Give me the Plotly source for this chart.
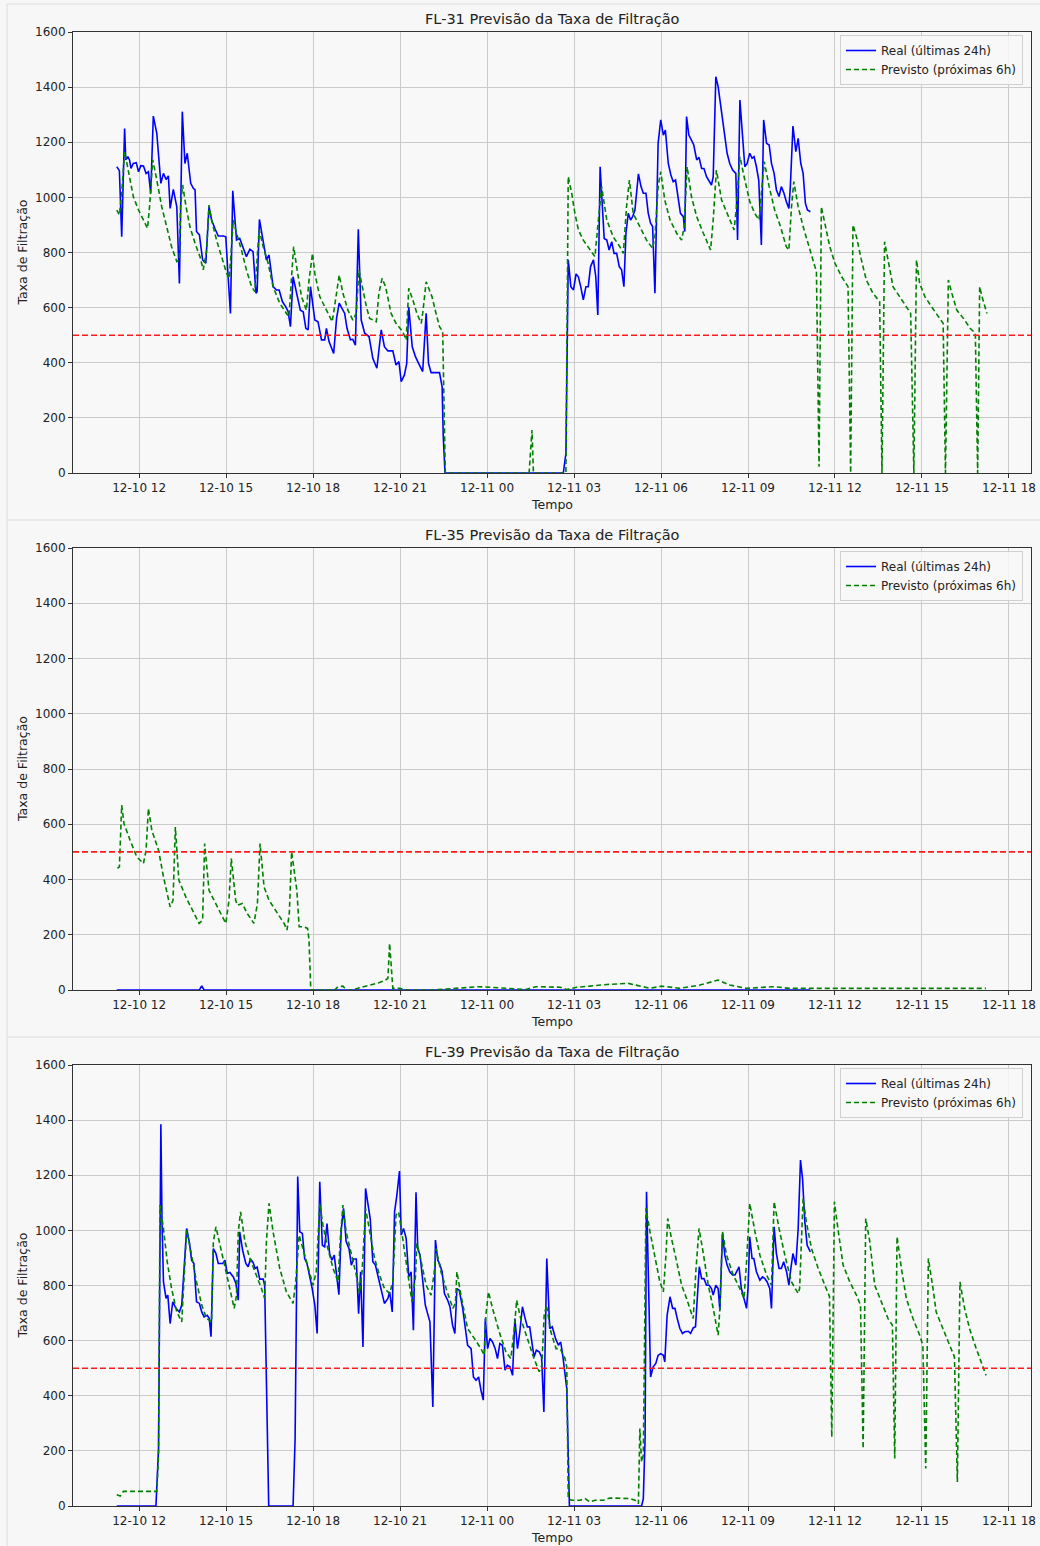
import pandas as pd
import plotly.graph_objects as go

BASE = pd.Timestamp("2024-12-10 00:00")

# ---------------- data (hours since 12-10 00:00, values) ----------------
fl31_real_h = [11.23,11.32,11.40,11.50,11.54,11.61,11.67,11.72,11.80,11.90,11.98,12.06,12.15,12.24,12.32,12.40,12.49,12.61,12.75,12.84,12.93,13.01,13.07,13.18,13.30,13.39,13.49,13.58,13.66,13.78,13.87,13.93,13.98,14.08,14.19,14.30,14.41,14.50,14.61,14.73,14.90,14.99,15.07,15.15,15.23,15.36,15.47,15.62,15.70,15.82,15.93,16.03,16.07,16.15,16.28,16.39,16.48,16.62,16.74,16.83,16.94,17.06,17.14,17.22,17.31,17.43,17.56,17.66,17.75,17.83,17.91,18.06,18.17,18.29,18.40,18.46,18.55,18.71,18.81,18.90,19.01,19.09,19.17,19.29,19.37,19.46,19.56,19.66,19.78,19.93,20.06,20.20,20.35,20.46,20.58,20.75,20.86,20.96,21.04,21.15,21.23,21.30,21.42,21.53,21.64,21.78,21.90,21.98,22.07,22.36,22.45,22.49,22.55,26.63,26.72,26.80,26.89,26.98,27.07,27.15,27.23,27.32,27.41,27.49,27.57,27.67,27.75,27.82,27.90,27.98,28.04,28.13,28.21,28.30,28.38,28.47,28.56,28.64,28.72,28.79,28.87,28.95,29.02,29.10,29.22,29.31,29.39,29.48,29.56,29.64,29.71,29.79,29.85,29.90,29.99,30.08,30.15,30.25,30.34,30.42,30.50,30.59,30.67,30.77,30.82,30.88,30.96,31.05,31.13,31.23,31.31,31.40,31.48,31.57,31.66,31.74,31.80,31.89,31.97,32.09,32.18,32.28,32.37,32.47,32.58,32.64,32.72,32.81,32.89,32.97,33.06,33.14,33.21,33.29,33.37,33.46,33.54,33.64,33.73,33.81,33.90,33.98,34.07,34.15,34.24,34.32,34.41,34.46,34.55,34.65,34.73,34.82,34.90,34.98,35.05,35.15]
fl31_real_v = [1111,1097,857,1250,1136,1148,1136,1105,1123,1126,1093,1115,1114,1087,1093,1015,1295,1232,1051,1087,1065,1078,960,1029,966,688,1311,1123,1160,1051,1033,1027,876,864,773,761,966,918,888,860,860,857,712,579,1024,845,851,809,785,812,803,652,658,920,845,773,791,676,664,664,622,603,585,531,712,658,591,585,525,519,676,555,549,483,483,525,477,434,561,616,591,579,525,483,485,464,884,555,507,495,416,380,519,458,443,443,392,404,331,356,398,603,458,422,398,368,579,398,364,364,313,132,0,0,71,773,676,664,722,712,676,628,676,676,749,773,712,573,1111,966,851,845,809,839,797,797,749,737,676,870,942,918,930,954,1085,1039,1015,1015,942,906,894,652,918,1196,1281,1226,1244,1123,1081,1057,1063,990,942,930,876,1293,1226,1208,1190,1136,1145,1105,1105,1075,1057,1045,1075,1438,1402,1305,1220,1160,1123,1099,1087,845,1353,1220,1111,1123,1160,1142,1148,1111,1063,827,1281,1196,1190,1123,1087,1027,1003,1039,1015,985,960,1039,1259,1166,1214,1123,1087,978,954,948]

fl31_pred_h = [11.23,11.32,11.40,11.50,11.58,11.69,11.80,11.98,12.15,12.29,12.36,12.47,12.61,12.78,12.95,13.12,13.30,13.39,13.43,13.50,13.62,13.75,13.93,14.10,14.21,14.33,14.41,14.50,14.67,14.84,15.02,15.11,15.19,15.25,15.36,15.53,15.70,15.88,15.99,16.07,16.14,16.28,16.45,16.62,16.85,17.08,17.17,17.25,17.33,17.45,17.60,17.77,17.86,17.98,18.06,18.23,18.46,18.66,18.74,18.90,19.03,19.20,19.37,19.49,19.58,19.70,19.84,19.95,20.18,20.27,20.38,20.50,20.69,20.86,21.09,21.21,21.30,21.44,21.58,21.73,21.78,21.90,22.10,22.24,22.36,22.47,22.53,22.56,25.45,25.55,25.60,26.72,26.80,26.92,27.03,27.15,27.32,27.55,27.72,27.84,27.95,28.13,28.35,28.58,28.70,28.81,28.91,29.04,29.27,29.50,29.71,29.79,29.90,29.99,30.13,30.31,30.54,30.71,30.80,30.90,31.05,31.23,31.46,31.71,31.80,31.91,32.09,32.32,32.52,32.60,32.72,32.89,33.06,33.23,33.38,33.46,33.56,33.73,33.92,34.12,34.32,34.41,34.50,34.58,34.73,34.90,35.07,35.24,35.36,35.45,35.53,35.65,35.82,36.00,36.23,36.45,36.54,36.62,36.74,36.91,37.08,37.31,37.54,37.62,37.71,37.83,38.00,38.23,38.46,38.61,38.72,38.81,38.92,39.10,39.33,39.56,39.73,39.81,39.91,40.03,40.20,40.43,40.66,40.84,40.92,40.99,41.07,41.24]
fl31_pred_v = [954,936,1015,1166,1123,1063,1003,954,918,888,966,1136,1063,966,894,821,767,773,966,1045,966,894,833,785,737,809,972,918,845,785,724,706,845,918,870,809,737,676,658,773,882,821,761,676,616,579,567,700,821,737,640,591,700,797,724,640,591,549,603,718,652,591,555,579,737,676,603,561,549,652,706,676,579,543,513,483,670,628,579,543,579,694,640,579,531,513,192,0,0,156,0,0,1075,1015,942,882,845,809,785,918,1039,918,857,821,797,966,1063,942,894,845,815,857,1039,1093,990,918,870,845,894,1111,1003,930,870,809,918,1099,990,930,882,966,1148,1063,985,942,918,1015,1130,1039,954,894,821,809,966,1057,966,894,833,773,730,23,966,906,821,761,712,676,0,900,857,773,700,652,622,0,839,773,676,640,603,579,0,773,688,640,603,567,543,0,700,652,591,561,525,507,0,676,640,579]

fl35_real_h = [11.23, 14.08, 14.16, 14.24, 35.15]
fl35_real_v = [0, 0, 15, 0, 0]

fl35_pred_h = [11.25,11.32,11.40,11.48,11.69,11.92,12.15,12.24,12.32,12.44,12.67,12.84,13.07,13.17,13.25,13.37,13.61,13.84,14.07,14.19,14.26,14.41,14.70,14.99,15.10,15.18,15.33,15.39,15.56,15.73,15.96,16.08,16.17,16.31,16.48,16.77,17.00,17.10,17.18,17.26,17.35,17.44,17.52,17.67,17.81,17.86,17.92,18.74,18.86,19.03,19.15,19.38,19.60,19.83,20.06,20.29,20.46,20.58,20.64,20.70,20.75,20.98,21.21,22.13,22.47,23.04,23.73,24.08,24.77,25.34,25.68,26.03,26.52,26.75,27.09,27.55,28.13,28.87,29.27,29.62,30.02,30.65,31.34,31.97,32.37,32.95,33.87,34.44,35.24,37.31,41.21]
fl35_pred_v = [440,446,669,602,542,482,458,506,657,578,506,410,301,325,590,398,337,289,241,253,530,361,301,241,325,476,325,307,313,277,241,313,530,373,325,277,241,217,277,500,422,361,229,229,223,181,0,0,12,14,0,0,8,14,20,27,34,42,169,72,6,6,0,0,2,6,12,10,6,2,12,12,10,2,10,14,20,24,14,6,14,6,18,36,18,6,12,6,6,6,6]

fl39_real_h = [11.23,12.58,12.67,12.75,12.79,12.84,12.93,12.99,13.07,13.16,13.27,13.39,13.47,13.55,13.64,13.73,13.81,13.89,13.98,14.08,14.16,14.24,14.35,14.42,14.48,14.56,14.65,14.73,14.88,14.96,15.04,15.13,15.25,15.34,15.42,15.47,15.57,15.68,15.76,15.84,15.93,16.00,16.07,16.16,16.28,16.33,16.47,17.31,17.38,17.47,17.54,17.63,17.71,17.79,17.88,17.97,18.06,18.14,18.23,18.32,18.40,18.48,18.57,18.65,18.73,18.80,18.89,18.97,19.05,19.14,19.24,19.32,19.40,19.49,19.57,19.64,19.72,19.81,19.89,19.97,20.06,20.15,20.23,20.35,20.46,20.58,20.64,20.73,20.81,20.89,20.98,21.04,21.12,21.21,21.30,21.38,21.46,21.55,21.61,21.69,21.78,21.87,21.95,22.03,22.13,22.22,22.30,22.36,22.45,22.53,22.64,22.72,22.81,22.89,22.96,23.04,23.16,23.25,23.33,23.45,23.53,23.62,23.71,23.79,23.87,23.94,24.02,24.10,24.19,24.28,24.36,24.44,24.53,24.62,24.70,24.79,24.88,24.96,25.05,25.13,25.22,25.30,25.39,25.47,25.54,25.62,25.70,25.80,25.88,25.96,26.06,26.16,26.25,26.36,26.46,26.54,26.61,26.69,26.75,26.84,29.33,29.39,29.45,29.50,29.56,29.64,29.73,29.82,29.90,29.99,30.08,30.13,30.21,30.31,30.40,30.48,30.56,30.65,30.74,30.82,30.94,31.02,31.11,31.19,31.25,31.32,31.40,31.48,31.57,31.66,31.74,31.80,31.89,31.97,32.03,32.12,32.20,32.28,32.37,32.47,32.55,32.63,32.69,32.77,32.86,32.95,33.00,33.06,33.14,33.20,33.29,33.41,33.50,33.58,33.66,33.75,33.81,33.90,33.98,34.07,34.15,34.23,34.33,34.41,34.47,34.55,34.65,34.73,34.81,34.88,34.96,35.04,35.15]
fl39_real_v = [0,0,208,1385,1031,813,753,765,662,741,717,704,729,850,1007,959,892,880,741,735,704,686,692,680,614,934,916,880,880,892,844,847,831,807,747,995,928,880,868,896,884,862,867,823,823,801,0,0,244,1195,995,989,898,880,838,789,729,626,1176,946,940,1025,916,892,910,850,767,1001,1080,959,934,874,896,896,698,850,577,1152,1092,1043,886,874,838,789,735,753,777,704,1067,1128,1215,983,1007,971,831,850,638,1138,934,910,813,729,698,668,359,965,892,880,850,771,747,723,656,626,789,783,717,638,583,571,468,456,468,420,384,680,571,608,595,571,535,589,583,493,511,505,474,680,571,632,723,686,650,650,595,541,565,559,541,341,898,644,650,608,583,595,547,487,426,0,0,27,244,1140,789,468,505,517,547,553,547,523,692,759,717,717,680,644,626,632,634,626,646,650,753,868,825,825,801,801,789,765,801,789,710,989,910,874,850,838,838,856,868,789,747,717,789,977,898,898,850,819,831,825,813,789,717,1013,916,862,862,886,850,801,856,916,874,1007,1255,1188,1031,946,922]

fl39_pred_h = [11.23,11.35,11.46,11.69,12.15,12.61,12.67,12.72,12.84,12.97,13.12,13.30,13.47,13.55,13.64,13.81,13.98,14.16,14.33,14.50,14.56,14.65,14.79,14.96,15.13,15.28,15.36,15.42,15.50,15.65,15.82,16.05,16.22,16.33,16.39,16.48,16.62,16.85,17.08,17.31,17.40,17.52,17.65,17.83,18.00,18.11,18.23,18.34,18.51,18.69,18.86,18.94,19.03,19.14,19.32,19.49,19.60,19.69,19.81,19.95,20.12,20.29,20.46,20.64,20.75,20.86,20.95,21.09,21.26,21.41,21.53,21.58,21.73,21.90,22.07,22.18,22.24,22.41,22.59,22.82,22.91,22.96,23.10,23.33,23.56,23.79,23.90,23.96,24.05,24.19,24.42,24.65,24.82,24.94,25.02,25.16,25.39,25.62,25.80,25.89,25.97,26.05,26.20,26.38,26.52,26.69,26.75,26.80,26.92,27.21,27.38,27.55,27.72,28.01,28.24,28.58,28.93,29.10,29.22,29.27,29.33,29.39,29.48,29.62,29.79,29.96,30.08,30.17,30.23,30.36,30.54,30.71,30.88,31.11,31.20,31.31,31.45,31.63,31.80,31.97,32.03,32.12,32.26,32.49,32.72,32.86,32.95,33.06,33.24,33.41,33.64,33.81,33.90,34.07,34.27,34.50,34.73,34.78,34.90,35.01,35.19,35.42,35.65,35.81,35.89,35.98,36.10,36.28,36.51,36.74,36.88,36.97,37.06,37.20,37.37,37.60,37.83,37.98,38.06,38.14,38.29,38.46,38.69,38.92,39.03,39.13,39.22,39.38,39.49,39.72,39.95,40.12,40.22,40.31,40.47,40.64,40.87,41.04,41.21]
fl39_pred_v = [41,36,53,53,53,53,184,1092,1007,886,789,704,668,850,1001,910,813,729,680,668,959,1013,946,874,789,717,765,995,1067,959,898,838,789,753,959,1098,995,862,777,735,813,983,934,862,801,850,1098,1019,934,862,813,971,1092,995,910,838,771,850,1080,995,898,838,789,771,813,1055,1067,971,838,741,831,953,886,801,765,850,934,850,789,717,735,850,765,644,608,571,547,692,777,717,632,559,535,644,747,680,608,535,487,511,692,729,632,571,571,535,505,27,21,21,27,15,21,21,29,29,27,21,8,281,160,184,1080,995,910,813,777,910,1043,971,886,801,753,680,850,1007,922,801,717,620,717,995,910,838,789,753,886,1098,995,910,838,801,1104,1007,910,813,771,789,1116,1031,934,862,801,760,250,1104,1007,874,813,765,729,208,1043,959,801,741,680,656,172,977,862,753,680,620,583,136,898,789,704,644,583,541,87,813,717,644,571,523,474]

panels = [
    ("FL-31 Previsão da Taxa de Filtração", fl31_real_h, fl31_real_v, fl31_pred_h, fl31_pred_v),
    ("FL-35 Previsão da Taxa de Filtração", fl35_real_h, fl35_real_v, fl35_pred_h, fl35_pred_v),
    ("FL-39 Previsão da Taxa de Filtração", fl39_real_h, fl39_real_v, fl39_pred_h, fl39_pred_v),
]
threshold = 500

# ---------------- layout geometry (pixels) ----------------
W, H = 1040, 1546
PX_L, PX_R = 73, 1031
PANEL_Y = [(32, 473), (548, 990), (1065, 1506)]

def px(x):
    return x / W

def py(y):
    return 1 - y / H

FONT = "DejaVu Sans"
fig = go.Figure()

def to_t(hs):
    return BASE + pd.to_timedelta(pd.Series(hs), unit="h")

x_range = [BASE + pd.Timedelta(hours=9.72), BASE + pd.Timedelta(hours=42.76)]

annotations = []
shapes = []
for i, (title, rh, rv, ph, pv) in enumerate(panels):
    k = "" if i == 0 else str(i + 1)
    leg = "legend" if i == 0 else f"legend{i+1}"
    fig.add_trace(go.Scatter(x=to_t(rh), y=rv, mode="lines", name="Real (últimas 24h)",
                             line=dict(color="#0000ff", width=1.6), xaxis="x" + k, yaxis="y" + k,
                             legend=leg))
    fig.add_trace(go.Scatter(x=to_t(ph), y=pv, mode="lines", name="Previsto (próximas 6h)",
                             line=dict(color="#008000", width=1.6, dash="5px,3px"),
                             xaxis="x" + k, yaxis="y" + k, legend=leg))
    top, bot = PANEL_Y[i]
    common = dict(showline=True, linecolor="#333333", linewidth=1, mirror=True,
                  showgrid=True, gridcolor="#cbcbcb", gridwidth=1, zeroline=False,
                  ticks="outside", ticklen=4, tickcolor="#333333", automargin=False,
                  tickfont=dict(family=FONT, size=12, color="#222222"))
    fig.layout["xaxis" + k] = dict(domain=[px(PX_L), px(PX_R)], anchor="y" + k,
                                   type="date", range=x_range,
                                   tick0=BASE, dtick=3 * 3600 * 1000, tickformat="%m-%d %H",
                                   **common)
    fig.layout["yaxis" + k] = dict(domain=[py(bot), py(top)], anchor="x" + k,
                                   range=[0, 1600], dtick=200, **common)
    fig.layout[leg] = dict(x=px(1023), y=py(top + 3), xanchor="right", yanchor="top",
                           bgcolor="rgba(248,248,248,0.85)", bordercolor="#d0d0d0", borderwidth=1,
                           font=dict(family=FONT, size=12, color="#222222"),
                           tracegroupgap=0, itemwidth=30)
    # threshold line
    shapes.append(dict(type="line", xref="x" + k + " domain", yref="y" + k, x0=0, x1=1,
                       y0=threshold, y1=threshold, line=dict(color="#ff1a1a", width=1.6, dash="6px,3px")))
    annotations.append(dict(text=title, x=px((PX_L + PX_R) / 2), y=py(top - 13), xref="paper", yref="paper",
                            showarrow=False, font=dict(family=FONT, size=14.5, color="#222222"),
                            xanchor="center", yanchor="middle"))
    annotations.append(dict(text="Tempo", x=px((PX_L + PX_R) / 2), y=py(bot + 31), xref="paper", yref="paper",
                            showarrow=False, font=dict(family=FONT, size=12.5, color="#222222"),
                            xanchor="center", yanchor="middle"))
    annotations.append(dict(text="Taxa de Filtração", x=px(22), y=py((top + bot) / 2), xref="paper", yref="paper",
                            showarrow=False, textangle=-90, font=dict(family=FONT, size=12.5, color="#222222"),
                            xanchor="center", yanchor="middle"))

# container borders / separators
for yy in [4, 520, 1037]:
    shapes.append(dict(type="line", xref="paper", yref="paper", x0=px(7), x1=1, y0=py(yy), y1=py(yy),
                       line=dict(color="#dcdcdc", width=1)))
shapes.append(dict(type="line", xref="paper", yref="paper", x0=px(7), x1=px(7), y0=py(4), y1=0,
                   line=dict(color="#dcdcdc", width=1)))

fig.update_layout(width=W, height=H, margin=dict(l=0, r=0, t=0, b=0, autoexpand=False),
                  paper_bgcolor="#f7f7f7", plot_bgcolor="#f8f8f8",
                  showlegend=True, annotations=annotations, shapes=shapes,
                  font=dict(family=FONT))

fig.write_html("out.html")
